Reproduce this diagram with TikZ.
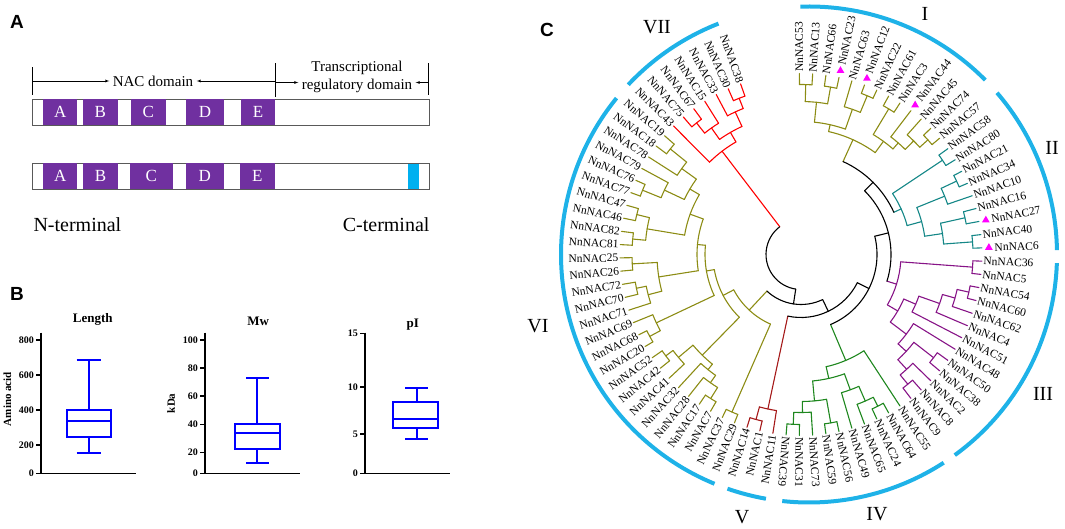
\documentclass[tikz,border=0pt]{standalone}
\usepackage{fontspec}
\setmainfont{Liberation Serif}
\newfontfamily\panelfont{Liberation Sans}
\usetikzlibrary{shapes.geometric}
\definecolor{domainpurple}{RGB}{112,48,160}
\definecolor{motifblue}{RGB}{0,176,240}
\definecolor{arcblue}{RGB}{30,178,232}
\definecolor{plotblue}{RGB}{0,0,255}
\definecolor{markpink}{RGB}{255,0,255}
\definecolor{cVII}{RGB}{255,0,0}
\definecolor{cVI}{RGB}{140,140,20}
\definecolor{cV}{RGB}{165,25,25}
\definecolor{cIV}{RGB}{30,135,30}
\definecolor{cIII}{RGB}{135,20,135}
\definecolor{cII}{RGB}{20,135,135}
\definecolor{cI}{RGB}{140,140,20}

\tikzset{
  leaf/.style={font=\fontsize{11.5}{12}\selectfont, inner sep=1.5pt},
  branch/.style={line width=1.1pt, line cap=round},
  clade/.style={arcblue, line width=4pt},
  cladename/.style={font=\fontsize{20}{22}\selectfont},
  tri/.style={regular polygon, regular polygon sides=3, fill=markpink, inner sep=0pt, minimum size=9pt},
  panel/.style={font=\panelfont\bfseries\fontsize{19}{20}\selectfont},
  bar/.style={draw=gray!70!black, line width=0.8pt},
  motif/.style={fill=domainpurple, text=white, inner sep=0pt, minimum height=26pt, font=\fontsize{17}{18}\selectfont},
  atext/.style={font=\fontsize{15}{17.7}\selectfont},
  term/.style={font=\fontsize{20}{22}\selectfont},
  axis/.style={line width=1.5pt},
  bplot/.style={plotblue, line width=2.2pt},
  ticklab/.style={font=\bfseries\fontsize{10}{11}\selectfont, anchor=east, inner sep=1pt},
  ptitle/.style={font=\bfseries\fontsize{13}{14}\selectfont},
  ylab/.style={font=\bfseries\fontsize{11}{12}\selectfont, rotate=90},
}

\newcommand\nnclr{black}
\newcommand\nnleaf[3]{%
  \pgfmathsetmacro\nnA{109.5+4.21*#2}%
  \expandafter\xdef\csname na@#1\endcsname{\nnA}%
  \expandafter\xdef\csname nc@#1\endcsname{\nnclr}%
  \coordinate (#1) at (\nnA:181);%
  \pgfmathtruncatemacro\nnS{(\nnA>95)&&(\nnA<263)}%
  \ifnum\nnS=1
    \node[leaf, anchor=east, rotate=\nnA+180] (#1t) at (\nnA:181) {#3};%
  \else
    \node[leaf, anchor=west, rotate=\nnA] (#1t) at (\nnA:181) {#3};%
  \fi}
\newcommand\nnmark[3]{%
  \pgfmathsetmacro\nnA{109.5+4.21*#2}%
  \expandafter\xdef\csname na@#1\endcsname{\nnA}%
  \expandafter\xdef\csname nc@#1\endcsname{\nnclr}%
  \coordinate (#1) at (\nnA:181);%
  \node[tri] (#1m) at (\nnA:188) {};%
  \node[leaf, anchor=west, rotate=\nnA] (#1t) at (\nnA:192) {#3};}
\newcommand\nnjoin[4]{%
  \edef\nnP{\csname na@#2\endcsname}%
  \edef\nnQ{\csname na@#3\endcsname}%
  \edef\nnCP{\csname nc@#2\endcsname}%
  \edef\nnCQ{\csname nc@#3\endcsname}%
  \pgfmathsetmacro\nnA{(\nnP+\nnQ)/2}%
  \expandafter\xdef\csname na@#1\endcsname{\nnA}%
  \expandafter\xdef\csname nc@#1\endcsname{\nnclr}%
  \coordinate (#1) at (\nnA:#4);%
  \draw[branch, color=\nnCP] (#2) -- (\nnP:#4);%
  \draw[branch, color=\nnCQ] (#3) -- (\nnQ:#4);%
  \draw[branch, color=\nnclr] (\nnP:#4) arc[start angle=\nnP, end angle=\nnQ, radius=#4pt];}

\begin{document}
\begin{tikzpicture}[x=1pt, y=1pt, >=latex]
\useasboundingbox (0,0) rectangle (1065,528);

\node[panel] (pa) at (17,506) {A};
\node[panel] (pb) at (17,234) {B};
\node[panel] (pc) at (547,498) {C};

\draw[bar] (32.3,402.7) rectangle (429.3,428.7);
\foreach \xa/\xb/\t in {43.3/77.3/A, 82.7/117.7/B, 130.7/166/C, 186/224/D, 240.7/275.3/E}{
  \pgfmathsetmacro\mw{\xb-\xa}
  \node[motif, minimum width=\mw pt] (p1\t) at ({(\xa+\xb)/2},415.7) {\t};
}
\draw[bar] (32.3,338.7) rectangle (429.3,364.7);
\foreach \xa/\xb/\t in {43/77.3/A, 83.3/117.7/B, 130/172.7/C, 185.7/224/D, 240/274.7/E}{
  \pgfmathsetmacro\mw{\xb-\xa}
  \node[motif, minimum width=\mw pt] (p2\t) at ({(\xa+\xb)/2},351.7) {\t};
}
\fill[motifblue] (408.3,339.1) rectangle (419.3,364.3);

\draw (32.3,433) -- (32.3,461.3);
\draw (275.3,431.3) -- (275.3,465);
\draw (427.7,433) -- (427.7,465.3);
\coordinate (ta) at (32.3,447);
\coordinate (tb) at (275.3,447);
\coordinate (tc) at (275.3,445.5);
\coordinate (td) at (427.7,445.5);
\node[atext] (nac) at (153,447) {NAC domain};
\node[atext, align=center] (trd) at (357,451) {Transcriptional\\regulatory domain};
\draw[->] (ta) -- (nac.west);
\draw[->] (tb) -- (nac.east);
\draw[->] (tc) -- (trd.west |- tc);
\draw[->] (td) -- (trd.east |- td);
\node[term, anchor=west] (nterm) at (30,303) {N-terminal};
\node[term, anchor=east] (cterm) at (433,303) {C-terminal};

\draw[axis] (41,195.3) -- (41,54.7) -- (136,54.7);
\foreach \y/\t in {188/800, 153/600, 118/400, 83/200, 54.7/0}{
  \draw[axis] (36,\y) -- (41,\y);
  \node[ticklab] at (35,\y) {\t};
}
\draw[bplot] (66.7,90.7) rectangle (111,118);
\draw[bplot] (66.7,107) -- (111,107);
\draw[bplot] (88.7,118) -- (88.7,167.7) (76.7,167.7) -- (100.7,167.7);
\draw[bplot] (88.7,90.7) -- (88.7,74.7) (76.7,74.7) -- (100.7,74.7);
\node[ptitle] (tlen) at (92.7,208.7) {Length};
\node[ylab] (ylen) at (7.3,129) {Amino acid};

\draw[axis] (205,195.3) -- (205,54.3) -- (300,54.3);
\foreach \y/\t in {188/100, 160/80, 132/60, 103.7/40, 75.7/20, 54.3/0}{
  \draw[axis] (200,\y) -- (205,\y);
  \node[ticklab] at (199,\y) {\t};
}
\draw[bplot] (235,79.3) rectangle (280,104);
\draw[bplot] (235,94.7) -- (280,94.7);
\draw[bplot] (257.3,104) -- (257.3,149.7) (246,149.7) -- (269.3,149.7);
\draw[bplot] (257.3,79.3) -- (257.3,65.3) (246,65.3) -- (269.3,65.3);
\node[ptitle] (tmw) at (258.3,206.3) {Mw};
\node[ylab] (ymw) at (171,124.7) {kDa};

\draw[axis] (365,195.3) -- (365,54.3) -- (450,54.3);
\foreach \y/\t in {194.7/15, 141/10, 94/5, 54.3/0}{
  \draw[axis] (360,\y) -- (365,\y);
  \node[ticklab] at (359,\y) {\t};
}
\draw[bplot] (393.3,99.7) rectangle (438.3,126.3);
\draw[bplot] (393.3,108.7) -- (438.3,108.7);
\draw[bplot] (416.7,126.3) -- (416.7,139.7) (405,139.7) -- (427.7,139.7);
\draw[bplot] (416.7,99.7) -- (416.7,89) (405,89) -- (427.7,89);
\node[ptitle] (tpi) at (412.7,203) {pI};

\begin{scope}[shift={(809,273.5)}]
\draw[clade] (111.4:248) arc[start angle=111.4, end angle=136.8, radius=248pt];
\draw[clade] (140.9:248) arc[start angle=140.9, end angle=247.6, radius=248pt];
\draw[clade] (250.8:248) arc[start angle=250.8, end angle=260, radius=248pt];
\draw[clade] (263.8:248) arc[start angle=263.8, end angle=302.9, radius=248pt];
\draw[clade] (306:248) arc[start angle=306, end angle=358, radius=248pt];
\draw[clade] (1:248) arc[start angle=1, end angle=40.7, radius=248pt];
\draw[clade] (44.7:248) arc[start angle=44.7, end angle=92, radius=248pt];
\end{scope}
\node[cladename] (gVII) at (657,501) {VII};
\node[cladename] (gI) at (925,514) {I};
\node[cladename] (gII) at (1052,380) {II};
\node[cladename] (gIII) at (1043,134) {III};
\node[cladename] (gIV) at (877,14) {IV};
\node[cladename] (gV) at (742,11) {V};
\node[cladename] (gVI) at (538,202) {VI};

\begin{scope}[shift={(801,273.5)}]
\renewcommand\nnclr{cVII}
\nnleaf{L38a}{0}{NnNAC38}
\nnleaf{L30}{1}{NnNAC30}
\nnleaf{L33}{2}{NnNAC33}
\nnleaf{L15}{3}{NnNAC15}
\nnleaf{L67}{4}{NnNAC67}
\nnleaf{L75}{5}{NnNAC75}
\nnleaf{L43}{6}{NnNAC43}
\nnjoin{v1}{L38a}{L30}{168}
\nnjoin{v2}{v1}{L33}{157}
\nnjoin{v3}{L67}{L75}{168}
\nnjoin{v4}{L15}{v3}{155}
\nnjoin{v5}{v2}{v4}{141}
\nnjoin{VII}{v5}{L43}{130}

\renewcommand\nnclr{cVI}
\nnleaf{L19}{7}{NnNAC19}
\nnleaf{L18}{8}{NnNAC18}
\nnleaf{L78}{9}{NnNAC78}
\nnleaf{L79}{10}{NnNAC79}
\nnleaf{L76}{11}{NnNAC76}
\nnleaf{L77}{12}{NnNAC77}
\nnleaf{L47}{13}{NnNAC47}
\nnleaf{L46}{14}{NnNAC46}
\nnleaf{L82}{15}{NnNAC82}
\nnleaf{L81}{16}{NnNAC81}
\nnleaf{L25}{17}{NnNAC25}
\nnleaf{L26}{18}{NnNAC26}
\nnleaf{L72}{19}{NnNAC72}
\nnleaf{L70}{20}{NnNAC70}
\nnleaf{L71}{21}{NnNAC71}
\nnleaf{L69}{22}{NnNAC69}
\nnleaf{L68}{23}{NnNAC68}
\nnleaf{L20}{24}{NnNAC20}
\nnleaf{L52}{25}{NnNAC52}
\nnleaf{L42}{26}{NnNAC42}
\nnleaf{L41}{27}{NnNAC41}
\nnleaf{L32}{28}{NnNAC32}
\nnleaf{L28}{29}{NnNAC28}
\nnleaf{L17}{30}{NnNAC17}
\nnleaf{L7}{31}{NnNAC7}
\nnleaf{L37}{32}{NnNAC37}
\nnleaf{L29}{33}{NnNAC29}
\nnjoin{s1}{L19}{L18}{168}
\nnjoin{s2}{s1}{L78}{147}
\nnjoin{s3}{L76}{L77}{171}
\nnjoin{s4}{L79}{s3}{151}
\nnjoin{s5}{s2}{s4}{129}
\nnjoin{s6}{L47}{L46}{169}
\nnjoin{s7}{L82}{L81}{169}
\nnjoin{s8}{s6}{s7}{156}
\nnjoin{s9}{s5}{s8}{118}
\nnjoin{s10}{L25}{L26}{169}
\nnjoin{s11}{L72}{L70}{168}
\nnjoin{s12}{s11}{L71}{158}
\nnjoin{s13}{s10}{s12}{144}
\nnjoin{s14}{s9}{s13}{104}
\nnjoin{s15}{L68}{L20}{172}
\nnjoin{s16}{L69}{s15}{160}
\nnjoin{s17}{s14}{s16}{96}
\nnjoin{s18}{L52}{L42}{169}
\nnjoin{s19}{s18}{L41}{160}
\nnjoin{s20}{L17}{L7}{170}
\nnjoin{s21}{L28}{s20}{157}
\nnjoin{s22}{L32}{s21}{148}
\nnjoin{s23}{s19}{s22}{141}
\nnjoin{s24}{s17}{s23}{88}
\nnjoin{s25}{L37}{L29}{172}
\nnjoin{VI}{s24}{s25}{76}

\renewcommand\nnclr{cV}
\nnleaf{L14}{34}{NnNAC14}
\nnleaf{L1}{35}{NnNAC1}
\nnleaf{L11}{36}{NnNAC11}
\nnjoin{f1}{L14}{L1}{171}
\nnjoin{V}{f1}{L11}{158}

\renewcommand\nnclr{cIV}
\nnleaf{L39}{37}{NnNAC39}
\nnleaf{L31}{38}{NnNAC31}
\nnleaf{L73}{39}{NnNAC73}
\nnleaf{L59}{40}{NnNAC59}
\nnleaf{L56}{41}{NnNAC56}
\nnleaf{L49}{42}{NnNAC49}
\nnleaf{L65}{43}{NnNAC65}
\nnleaf{L24}{44}{NnNAC24}
\nnleaf{L64}{45}{NnNAC64}
\nnleaf{L55}{46}{NnNAC55}
\nnjoin{g1}{L39}{L31}{170}
\nnjoin{g2}{g1}{L73}{158}
\nnjoin{g3}{L59}{L56}{171}
\nnjoin{g4}{g2}{g3}{147}
\nnjoin{g5}{L24}{L64}{170}
\nnjoin{g6}{L65}{g5}{160}
\nnjoin{g7}{L49}{g6}{144}
\nnjoin{g8}{g4}{g7}{127}
\nnjoin{IV}{g8}{L55}{115}

\renewcommand\nnclr{cIII}
\nnleaf{L9}{47}{NnNAC9}
\nnleaf{L8}{48}{NnNAC8}
\nnleaf{L2}{49}{NnNAC2}
\nnleaf{L38b}{50}{NnNAC38}
\nnleaf{L50}{51}{NnNAC50}
\nnleaf{L48}{52}{NnNAC48}
\nnleaf{L51}{53}{NnNAC51}
\nnleaf{L4}{54}{NnNAC4}
\nnleaf{L62}{55}{NnNAC62}
\nnleaf{L60}{56}{NnNAC60}
\nnleaf{L54}{57}{NnNAC54}
\nnleaf{L5}{58}{NnNAC5}
\nnleaf{L36}{59}{NnNAC36}
\nnjoin{t1}{L9}{L8}{168}
\nnjoin{t2}{t1}{L2}{156}
\nnjoin{t3}{L38b}{L50}{168}
\nnjoin{t4}{t2}{t3}{143}
\nnjoin{t5}{t4}{L48}{132}
\nnjoin{t6}{L60}{L54}{172}
\nnjoin{t7}{L62}{t6}{160}
\nnjoin{t8}{L4}{t7}{147}
\nnjoin{t9}{L51}{t8}{125}
\nnjoin{t10}{t5}{t9}{112}
\nnjoin{t11}{L5}{L36}{172}
\nnjoin{III}{t10}{t11}{100}

\renewcommand\nnclr{cII}
\nnmark{L6}{60}{NnNAC6}
\nnleaf{L40}{61}{NnNAC40}
\nnmark{L27}{62}{NnNAC27}
\nnleaf{L16}{63}{NnNAC16}
\nnleaf{L10}{64}{NnNAC10}
\nnleaf{L34}{65}{NnNAC34}
\nnleaf{L21}{66}{NnNAC21}
\nnleaf{L80}{67}{NnNAC80}
\nnleaf{L58}{68}{NnNAC58}
\nnjoin{w1}{L6}{L40}{172}
\nnjoin{w2}{L27}{L16}{168}
\nnjoin{w3}{w1}{w2}{143}
\nnjoin{w4}{L34}{L21}{172}
\nnjoin{w5}{L10}{w4}{155}
\nnjoin{w6}{w3}{w5}{125}
\nnjoin{w7}{L80}{L58}{170}
\nnjoin{II}{w6}{w7}{110}

\renewcommand\nnclr{cI}
\nnleaf{L57}{69}{NnNAC57}
\nnleaf{L74}{70}{NnNAC74}
\nnleaf{L45}{71}{NnNAC45}
\nnmark{L44}{72}{NnNAC44}
\nnleaf{L3}{73}{NnNAC3}
\nnleaf{L61}{74}{NnNAC61}
\nnleaf{L22}{75}{NnNAC22}
\nnmark{L12}{76}{NnNAC12}
\nnleaf{L63}{77}{NnNAC63}
\nnmark{L23}{78}{NnNAC23}
\nnleaf{L66}{79}{NnNAC66}
\nnleaf{L13}{80}{NnNAC13}
\nnleaf{L53}{81}{NnNAC53}
\nnjoin{u1}{L57}{L74}{171}
\nnjoin{u2}{u1}{L45}{160}
\nnjoin{u3}{u2}{L44}{148}
\nnjoin{u4}{L3}{L61}{170}
\nnjoin{u5}{u3}{u4}{140}
\nnjoin{u6}{L22}{L12}{172}
\nnjoin{u7}{u6}{L63}{154}
\nnjoin{u8}{L23}{L66}{170}
\nnjoin{u9}{L13}{L53}{170}
\nnjoin{u10}{u8}{u9}{153}
\nnjoin{u11}{u7}{u10}{133}
\nnjoin{I}{u5}{u11}{126}

\renewcommand\nnclr{black}
\nnjoin{x5}{II}{I}{102}
\nnjoin{x4}{III}{x5}{90}
\nnjoin{x3}{IV}{x4}{76}
\nnjoin{x2}{V}{x3}{63}
\nnjoin{x1}{VI}{x2}{50}
\nnjoin{root}{VII}{x1}{35}
\end{scope}

\end{tikzpicture}
\end{document}
